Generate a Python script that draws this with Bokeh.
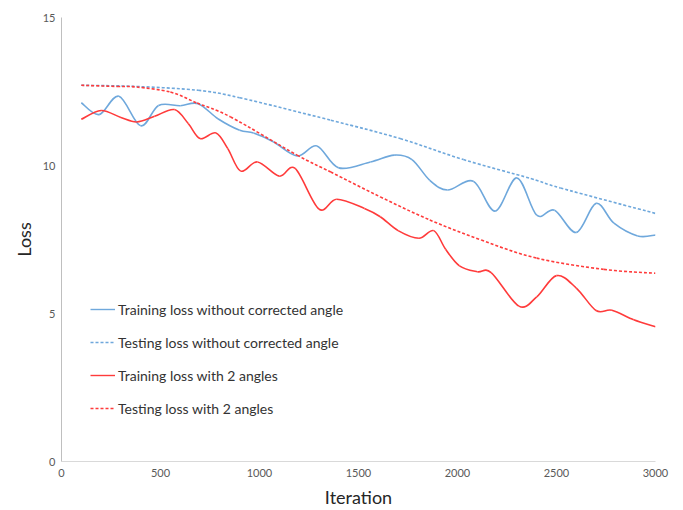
import numpy as np
from bokeh.plotting import figure
from bokeh.models import Range1d, FixedTicker, Legend, LegendItem, ColumnDataSource
from bokeh.embed import file_html
from bokeh.resources import INLINE
from bokeh.core.properties import value

# ---- data ----
iter_train_nocorr = [100, 190, 290, 400, 490, 600, 690, 790, 900, 970, 1070, 1190, 1290,
                     1400, 1560, 1680, 1770, 1860, 1950, 2080, 2190, 2300, 2400, 2490,
                     2600, 2700, 2790, 2910, 3000]
loss_train_nocorr = [12.12, 11.72, 12.34, 11.34, 12.03, 12.02, 12.09, 11.58, 11.19, 11.10,
                     10.80, 10.32, 10.66, 9.92, 10.12, 10.35, 10.20, 9.50, 9.17, 9.47,
                     8.46, 9.58, 8.32, 8.49, 7.74, 8.72, 8.05, 7.62, 7.65]

iter_test_nocorr = [100, 380, 690, 900, 1360, 1710, 2030, 2370, 2520, 3000]
loss_test_nocorr = [12.71, 12.67, 12.54, 12.29, 11.53, 10.91, 10.20, 9.56, 9.24, 8.38]

iter_train_2ang = [100, 200, 300, 380, 470, 570, 640, 700, 780, 840, 905, 990, 1100, 1180,
                   1300, 1390, 1530, 1610, 1700, 1805, 1880, 1940, 2010, 2100, 2170, 2310,
                   2400, 2500, 2600, 2700, 2780, 2890, 3000]
loss_train_2ang = [11.56, 11.86, 11.62, 11.47, 11.66, 11.89, 11.42, 10.91, 11.10, 10.57,
                   9.81, 10.12, 9.64, 9.90, 8.53, 8.86, 8.55, 8.27, 7.80, 7.54, 7.80, 7.17,
                   6.61, 6.41, 6.38, 5.25, 5.56, 6.28, 5.86, 5.10, 5.11, 4.79, 4.55]

iter_test_2ang = [100, 280, 380, 550, 685, 854, 1190, 1360, 1610, 1860, 2120, 2400, 2740, 3000]
loss_test_2ang = [12.71, 12.67, 12.65, 12.48, 12.11, 11.64, 10.35, 9.78, 8.94, 8.16, 7.48,
                  6.87, 6.49, 6.36]

x_ticks = [0, 500, 1000, 1500, 2000, 2500, 3000]
y_ticks = [0, 5, 10, 15]

labels = ["Training loss without corrected angle",
          "Testing loss without corrected angle",
          "Training loss with 2 angles",
          "Testing loss with 2 angles"]

BLUE = "#6FA8DC"
RED = "#FF3B3B"
FONT = "Lato"


def smooth_source(xs, ys):
    """Catmull-Rom style bezier segments through the read points (like a smoothed line)."""
    x = np.asarray(xs, float)
    y = np.asarray(ys, float)
    n = len(x)
    xp = np.concatenate([[x[0]], x, [x[-1]]])
    yp = np.concatenate([[y[0]], y, [y[-1]]])
    data = dict(
        x0=x[:-1], y0=y[:-1], x1=x[1:], y1=y[1:],
        cx0=x[:-1] + (xp[2:n + 1] - xp[0:n - 1]) / 6.0,
        cy0=y[:-1] + (yp[2:n + 1] - yp[0:n - 1]) / 6.0,
        cx1=x[1:] - (xp[3:n + 2] - xp[1:n]) / 6.0,
        cy1=y[1:] - (yp[3:n + 2] - yp[1:n]) / 6.0,
    )
    return ColumnDataSource(data)


p = figure(width=683, height=510, output_backend="svg", toolbar_location=None,
           x_range=Range1d(0, 3000), y_range=Range1d(0, 15),
           min_border_left=61, min_border_right=28, min_border_top=17, min_border_bottom=48)
p.outline_line_color = None
p.xgrid.visible = False
p.ygrid.visible = False
p.background_fill_color = "white"
p.border_fill_color = "white"

series = [
    (iter_train_nocorr, loss_train_nocorr, BLUE, "solid"),
    (iter_test_nocorr, loss_test_nocorr, BLUE, "3 2"),
    (iter_train_2ang, loss_train_2ang, RED, "solid"),
    (iter_test_2ang, loss_test_2ang, RED, "3 2"),
]

items = []
for (xs, ys, col, dash), lab in zip(series, labels):
    src = smooth_source(xs, ys)
    p.bezier(x0="x0", y0="y0", x1="x1", y1="y1", cx0="cx0", cy0="cy0", cx1="cx1", cy1="cy1",
             source=src, line_color=col, line_width=1.6, line_dash=dash)
    proxy = p.line(x=[float("nan")], y=[float("nan")], line_color=col, line_width=1.4,
                   line_dash=dash)
    items.append(LegendItem(label=lab, renderers=[proxy]))

legend = Legend(items=items, location=(29, 43), orientation="vertical",
                border_line_color=None, background_fill_alpha=0, padding=0, margin=0,
                spacing=13, glyph_width=25, glyph_height=20, label_height=20,
                label_standoff=3, label_text_font=FONT, label_text_font_size="14px",
                label_text_color="#333333")
p.add_layout(legend, "center")

for ax in (p.xaxis[0], p.yaxis[0]):
    ax.major_tick_line_color = None
    ax.minor_tick_line_color = None
    ax.major_tick_out = 0
    ax.major_tick_in = 0
    ax.minor_tick_out = 0
    ax.minor_tick_in = 0
    ax.major_label_text_font = FONT
    ax.major_label_text_font_size = "11px"
    ax.major_label_text_color = "#595959"
    ax.axis_label_text_font = FONT
    ax.axis_label_text_font_size = "18px"
    ax.axis_label_text_font_style = "normal"
    ax.axis_label_text_color = "#262626"

p.xaxis[0].ticker = FixedTicker(ticks=x_ticks)
p.yaxis[0].ticker = FixedTicker(ticks=y_ticks)
p.xaxis[0].axis_line_color = "#D9D9D9"
p.yaxis[0].axis_line_color = "#BFBFBF"
p.xaxis[0].axis_label = "Iteration"
p.yaxis[0].axis_label = "Loss"
p.xaxis[0].major_label_standoff = 7
p.xaxis[0].axis_label_standoff = 6
p.yaxis[0].major_label_standoff = 6
p.yaxis[0].axis_label_standoff = 5

open("out.html", "w").write(file_html(p, INLINE))
